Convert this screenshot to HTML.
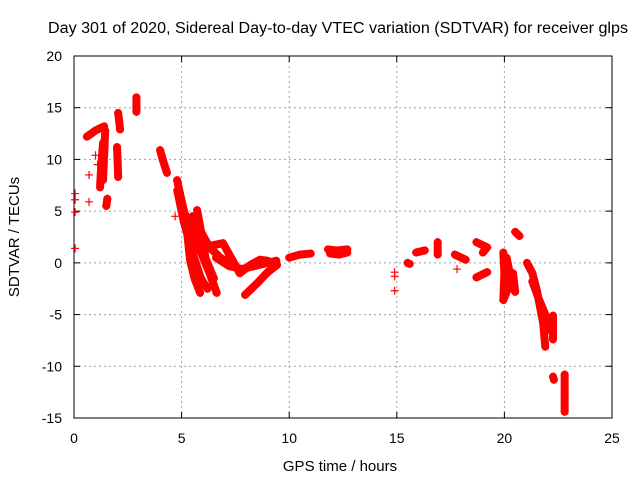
<!DOCTYPE html>
<html><head><meta charset="utf-8"><style>
html,body{margin:0;padding:0;background:#fff;}
svg{display:block;font-family:"Liberation Sans",sans-serif;}
</style></head><body>
<svg id="chart" width="640" height="480" viewBox="0 0 640 480">
<rect width="640" height="480" fill="#fff"/>
<text x="48" y="33" font-size="15.5" textLength="580" lengthAdjust="spacingAndGlyphs">Day 301 of 2020, Sidereal Day-to-day VTEC variation (SDTVAR) for receiver glps</text>
<text x="340" y="471" font-size="15" text-anchor="middle">GPS time / hours</text>
<text transform="translate(19,237) rotate(-90)" font-size="15" text-anchor="middle">SDTVAR / TECUs</text>
<g id="grid"></g>
<g id="axes"></g>
<g id="marks"></g>
</svg>
<script>
const xTicks=[0,5,10,15,20,25];
const yTicks=[20,15,10,5,0,-5,-10,-15];
// tracks: hours and SDTVAR values
const trackHours=[
 [0.6,0.8,1.0,1.2,1.4],
 [1.35,1.3,1.25,1.21],
 [1.45,1.4,1.35],
 [2.05,2.1,2.14],
 [2.0,2.03,2.05],
 [2.9,2.9],
 [1.5,1.55],
 [4.0,4.15,4.32],
 [4.79,5.0,5.2,5.39,5.6,5.86],
 [4.8,5.1,5.5,5.9,6.2],
 [5.0,5.4,5.8,6.2,6.5],
 [5.5,5.9,6.3,6.8,7.2],
 [5.72,5.95,6.18],
 [5.3,5.9,6.3,6.63],
 [6.0,6.92,7.3,7.7,8.2,8.64,9.0,9.43],
 [6.6,7.2,7.8,8.4,9.0,9.4],
 [7.95,8.5,9.0,9.43],
 [10.0,10.5,11.0],
 [11.8,12.2,12.7],
 [11.9,12.3,12.7],
 [15.5,15.6],[15.9,16.3],[16.9,16.9],[17.7,18.2],
 [18.7,19.2,19.0],[18.7,19.2],
 [20.5,20.7],
 [19.95,20.0,19.95,20.4,20.2],
 [20.1,20.3,20.5,20.4],
 [21.05,21.3,21.5,21.8,21.9],
 [21.3,21.6,21.9,22.0],
 [22.26,22.26],[22.26,22.3],[22.8,22.8,22.8]
];
const trackValues=[
 [12.2,12.5,12.8,13.0,13.2],
 [11.6,10.2,8.8,7.3],
 [12.8,10.5,8.0],
 [14.5,13.7,12.9],
 [11.2,9.7,8.3],
 [16.0,14.6],
 [5.5,6.2],
 [10.9,9.8,8.7],
 [8.0,6.0,4.2,0.3,-1.5,-2.9],
 [7.0,4.0,1.0,-1.5,-2.5],
 [5.5,3.5,2.0,0.0,-1.5],
 [4.5,3.0,1.5,0.5,0.0],
 [5.1,2.5,-0.4],
 [3.0,1.0,-1.0,-2.9],
 [1.5,1.9,0.5,-1.0,-0.2,0.3,0.2,-0.2],
 [0.5,-0.3,-0.6,-0.3,0.0,0.2],
 [-3.1,-2.0,-0.9,-0.2],
 [0.5,0.8,0.9],
 [1.3,1.2,1.3],
 [0.9,0.8,1.0],
 [0.0,-0.1],[1.0,1.2],[2.0,0.8],[0.8,0.3],
 [2.0,1.5,1.0],[-1.4,-0.9],
 [3.0,2.6],
 [1.0,-1.0,-3.6,-1.3,-2.5],
 [0.5,-1.5,-2.8,-1.0],
 [0.0,-1.0,-2.6,-5.8,-8.1],
 [-1.8,-3.5,-5.0,-6.5],
 [-5.1,-7.4],[-11.0,-11.3],[-10.8,-12.8,-14.4]
];
const singleHours=[0.05,0.05,0.05,0.05,0.7,0.7,1.0,1.1,14.9,14.9,14.9,17.8,4.7];
const singleValues=[6.7,6.1,4.9,1.4,8.5,5.9,10.4,9.5,-0.9,-1.3,-2.7,-0.6,4.5];

const L=74,R=612,T=56,B=418;
const X=h=>L+h/25*(R-L);
const Y=v=>T+(20-v)/35*(B-T);
const NS="http://www.w3.org/2000/svg";
function mk(tag,attrs,parent){const e=document.createElementNS(NS,tag);for(const k in attrs)e.setAttribute(k,attrs[k]);parent.appendChild(e);return e;}
const grid=document.getElementById('grid'),axes=document.getElementById('axes'),marks=document.getElementById('marks');
xTicks.forEach(t=>{
 if(t>0&&t<25){const g=mk('line',{x1:X(t),x2:X(t),y1:T,y2:B,stroke:'#a0a0a0','stroke-dasharray':'2,3'},grid);
 
 }
 mk('line',{x1:X(t),x2:X(t),y1:B,y2:B-6,stroke:'#000'},axes);
 mk('line',{x1:X(t),x2:X(t),y1:T,y2:T+6,stroke:'#000'},axes);
 const tx=mk('text',{x:X(t),y:B+25,'font-size':14,'text-anchor':'middle'},axes);tx.textContent=t;
 
 
});
yTicks.forEach(t=>{
 if(t<20&&t>-15){const g=mk('line',{x1:L,x2:R,y1:Y(t),y2:Y(t),stroke:'#a0a0a0','stroke-dasharray':'2,3'},grid);
 
 }
 mk('line',{x1:L,x2:L+6,y1:Y(t),y2:Y(t),stroke:'#000'},axes);
 mk('line',{x1:R,x2:R-6,y1:Y(t),y2:Y(t),stroke:'#000'},axes);
 const tx=mk('text',{x:L-12,y:Y(t)+5,'font-size':14,'text-anchor':'end'},axes);tx.textContent=t;
 
 
});
const fr=mk('rect',{x:L,y:T,width:R-L,height:B-T,fill:'none',stroke:'#000'},axes);


function plus(h,v){const x=X(h),y=Y(v);
 const p=mk('path',{d:`M${x-4},${y}H${x+4}M${x},${y-4}V${y+4}`,stroke:'#f00','stroke-width':1.2,fill:'none'},marks);
 
 }
trackHours.forEach((hs,i)=>{
 const vs=trackValues[i];
 const pts=hs.map((h,j)=>X(h)+','+Y(vs[j])).join(' ');
 const pl=mk('polyline',{points:pts,fill:'none',stroke:'#f00','stroke-width':8,'stroke-linejoin':'round','stroke-linecap':'round'},marks);
 
 
 hs.forEach((h,j)=>plus(h,vs[j]));
});
singleHours.forEach((h,i)=>plus(h,singleValues[i]));
</script>
</body></html>
